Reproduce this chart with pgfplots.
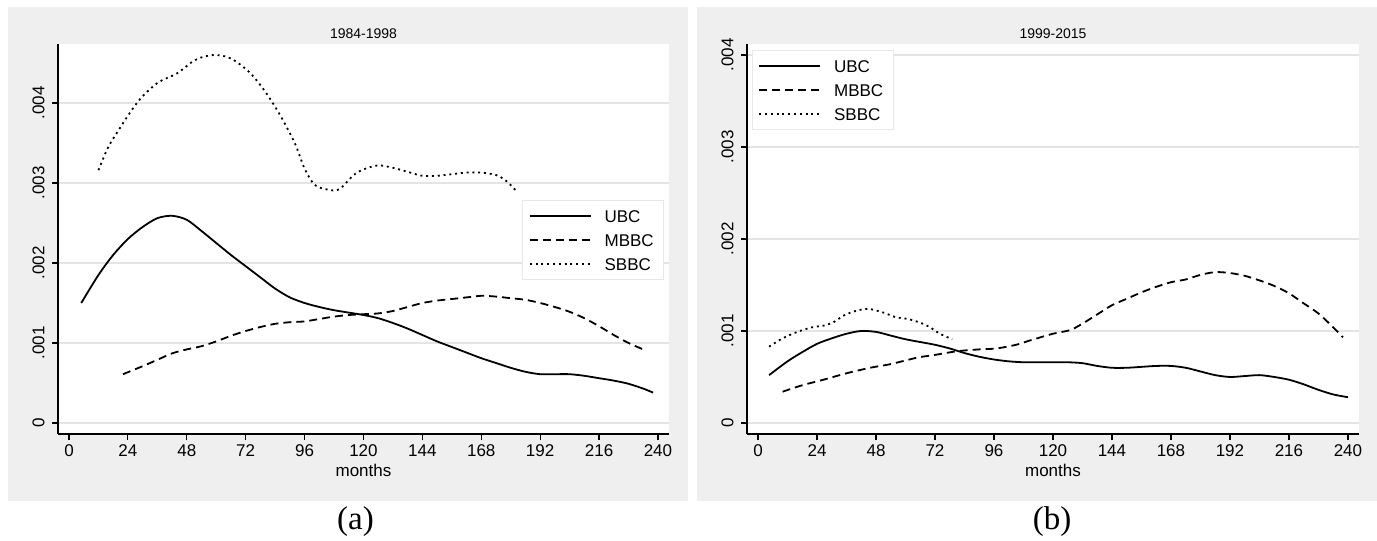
\documentclass[border=0pt]{standalone}
\usepackage{pgfplots}
\pgfplotsset{compat=1.18}
\usepackage{fontspec}
\setmainfont{Liberation Sans}
\newfontfamily\timesfont{Liberation Serif}
\definecolor{bggrey}{HTML}{EFEFEF}
\definecolor{gridgrey}{HTML}{E4E4E4}
\definecolor{leggrey}{HTML}{E8E8E8}

\pgfplotsset{
  stata/.style={
    scale only axis,
    height=195pt,
    xmin=-4.48, xmax=244.5,
    axis x line*=bottom, axis y line*=left,
    axis line style={line width=0.6pt, black},
    every tick/.style={black, line width=0.6pt},
    tick align=outside, major tick length=3pt,
    xtick={0,24,...,240},
    ytick={0,0.001,0.002,0.003,0.004},
    yticklabels={0,.001,.002,.003,.004},
    scaled y ticks=false,
    /pgf/number format/assume math mode=true,
    ymajorgrids, grid style={gridgrey, line width=0.7pt},
    tick label style={font=\fontsize{8.5}{9.5}\selectfont},
    yticklabel style={rotate=90, anchor=south, inner sep=0pt},
    yticklabel shift=3.5pt,
    xticklabel style={anchor=north, inner sep=0pt, yshift=-2pt},
    xlabel={months},
    xlabel style={font=\fontsize{8.5}{9.5}\selectfont, at={(axis description cs:0.5,0)}, anchor=base, yshift=-21pt},
    title style={font=\fontsize{7}{8}\selectfont, at={(axis description cs:0.5,1)}, anchor=base, yshift=-3pt},
    axis background/.style={fill=white},
    legend cell align=left,
    legend image code/.code={\draw[##1] (0pt,0pt) -- (30.5pt,0pt);},
    legend style={draw=leggrey, fill=white, font=\fontsize{8.5}{9.5}\selectfont,
      inner xsep=3pt, inner ysep=2.5pt, row sep=1.5pt, column sep=4.5pt,
      nodes={inner sep=2pt, text height=6.5pt, text depth=0pt}},
  },
  ubc/.style={black, line width=0.9pt, smooth, tension=0.5},
  mbbc/.style={black, line width=0.9pt, dash pattern=on 4pt off 2.5pt, smooth, tension=0.5},
  sbbc/.style={black, line width=0.9pt, dash pattern=on 1pt off 1.9pt, smooth, tension=0.5},
}

\begin{document}
\begin{tikzpicture}
\path[use as bounding box] (0pt,0pt) rectangle (688.5pt,-270.5pt);
\fill[bggrey] (4pt,-3.5pt) rectangle (344pt,-250.5pt);
\fill[bggrey] (348.5pt,-3.5pt) rectangle (688.5pt,-250.5pt);

\begin{axis}[stata, at={(29pt,-22pt)}, anchor=north west, width=305.5pt,
  ymin=-0.0001375, ymax=0.0047375, title={1984-1998},
  legend style={at={(0.992,0.6)}, anchor=north east}]
\addplot[ubc] coordinates {
(5,.00150) (12,.00185) (18,.00210) (24,.00230) (30,.00245) (36,.00256) (42,.00259)
(48,.00254) (54,.00240) (60,.00225) (66,.00210) (72,.00196) (78,.00182) (84,.00168)
(90,.00157) (96,.00150) (102,.00145) (108,.00141) (114,.00138) (120,.00135) (126,.00131)
(132,.00125) (138,.00118) (144,.00110) (150,.00102) (156,.00095) (162,.00088) (168,.00081)
(174,.00075) (180,.00069) (186,.00064) (192,.00061) (198,.00061) (204,.00061) (210,.00059)
(216,.00056) (222,.00053) (228,.00049) (234,.00043) (238,.00038)};
\addlegendentry{UBC}
\addplot[mbbc] coordinates {
(22,.00061) (30,.00071) (36,.00079) (42,.00087) (48,.00092) (54,.00096) (60,.00102)
(66,.00109) (72,.00115) (78,.00120) (84,.00124) (90,.00126) (96,.00127) (102,.00130)
(108,.00133) (114,.00135) (120,.00136) (126,.00137) (132,.00140) (138,.00145) (144,.00150)
(150,.00153) (156,.00155) (162,.00157) (168,.00159) (174,.00158) (180,.00156) (186,.00154)
(192,.00150) (198,.00145) (204,.00139) (210,.00131) (216,.00121) (222,.00110) (228,.00100)
(234,.00092)};
\addlegendentry{MBBC}
\addplot[sbbc] coordinates {
(12,.00316) (16,.00345) (20,.00365) (24,.00384) (29,.00405) (36,.00425) (44,.00437)
(50,.00451) (54,.00457) (59,.00460) (64,.00458) (68,.00452) (74,.00437) (80,.00414)
(86,.00385) (92,.00350) (96,.00318) (100,.00298) (105,.00292) (110,.00292) (116,.00310)
(120,.00317) (126,.00322) (132,.00319) (138,.00314) (144,.00309) (150,.00309) (156,.00311)
(162,.00313) (168,.00313) (174,.00310) (178,.00303) (182,.00291)};
\addlegendentry{SBBC}
\end{axis}

\begin{axis}[stata, at={(373.5pt,-22pt)}, anchor=north west, width=306pt,
  ymin=-0.00012, ymax=0.00412, title={1999-2015},
  legend style={at={(0.008,0.985)}, anchor=north west}]
\addplot[ubc] coordinates {
(4.5,.00052) (12,.00067) (18,.00077) (24,.00086) (30,.00092) (36,.00097) (42,.00100)
(48,.00099) (54,.00095) (60,.00091) (66,.00088) (72,.00085) (78,.00081) (84,.00076)
(90,.00072) (96,.00069) (102,.00067) (108,.00066) (114,.00066) (120,.00066) (126,.00066)
(132,.00065) (138,.00062) (144,.00060) (150,.00060) (156,.00061) (162,.00062) (168,.00062)
(174,.00060) (180,.00056) (186,.00052) (192,.00050) (198,.00051) (204,.00052) (210,.00050)
(216,.00047) (222,.00042) (228,.00036) (234,.00031) (240,.00028)};
\addlegendentry{UBC}
\addplot[mbbc] coordinates {
(10,.00034) (18,.00041) (26.6,.00047) (36,.00054) (45.6,.00060) (54,.00064) (64.7,.00071)
(72,.00074) (81,.00078) (90,.00080) (97,.00081) (105,.00085) (111,.00090) (120,.00097)
(127,.00101) (132,.00108) (138,.00118) (144,.00128) (150,.00135) (156,.00142) (162,.00148)
(168,.00153) (174,.00156) (180,.00161) (186,.00164) (192,.00163) (198,.00160) (204,.00155)
(210,.00149) (216,.00141) (222,.00130) (228,.00119) (234,.00104) (238,.00093)};
\addlegendentry{MBBC}
\addplot[sbbc] coordinates {
(4.5,.00083) (10,.00092) (16,.00099) (22,.00104) (27,.00106) (31,.00110) (35,.00117)
(40,.00122) (45,.00124) (51,.00120) (56,.00115) (61,.00113) (66,.00109) (70,.00104)
(74,.00097) (79,.00091)};
\addlegendentry{SBBC}
\end{axis}

\node[font=\timesfont\fontsize{16.5}{18}\selectfont] at (177.75pt,-261pt) {(a)};
\node[font=\timesfont\fontsize{16.5}{18}\selectfont] at (526pt,-261pt) {(b)};
\end{tikzpicture}
\end{document}
